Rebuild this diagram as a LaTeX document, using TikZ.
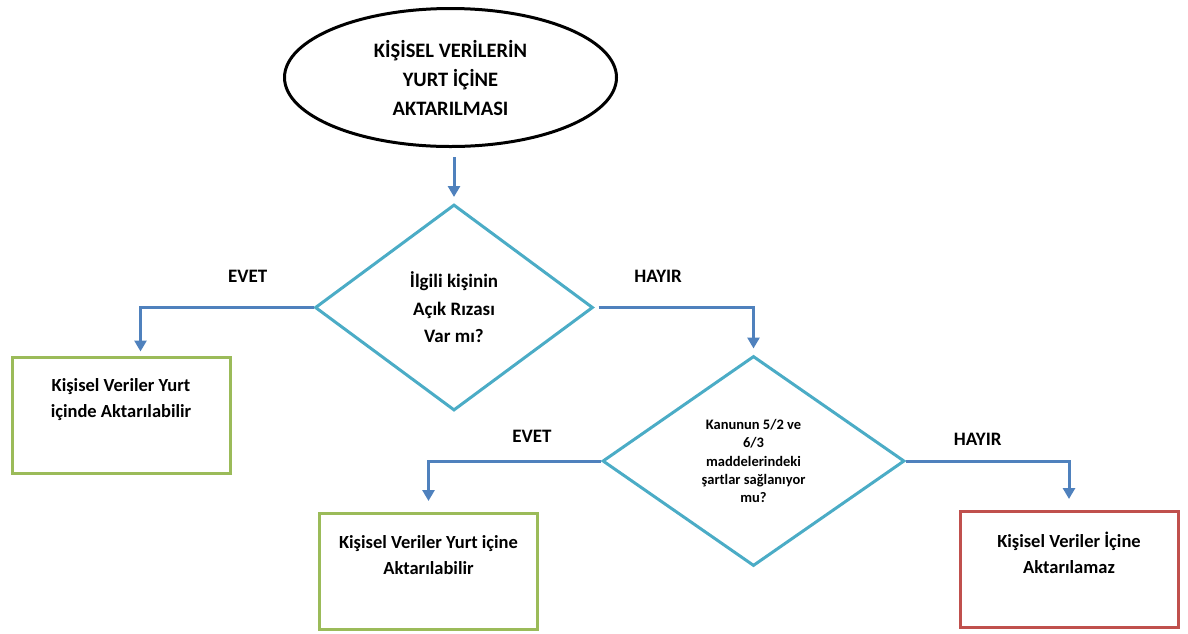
\documentclass[tikz,border=0pt]{standalone}
\usepackage{fontspec}
\setmainfont{Carlito}
\usepackage{tikz}
\usetikzlibrary{arrows.meta, positioning, shapes.geometric}

\definecolor{flowblue}{HTML}{4F81BD}
\definecolor{askaqua}{HTML}{4BACC6}
\definecolor{okgreen}{HTML}{9BBB59}
\definecolor{nored}{HTML}{C0504D}

\begin{document}
\begin{tikzpicture}[x=1pt, y=-1pt, font=\bfseries,
	arrow/.style={draw=flowblue, line width=3pt, -{Triangle[width=12pt,length=11pt]}},
	decision/.style={diamond, draw=askaqua, line width=3pt, inner sep=0pt, align=center},
	result/.style={rectangle, line width=3pt, minimum width=218pt, minimum height=116pt, align=center, font=\bfseries\fontsize{18.5}{26}\selectfont},
	lbl/.style={font=\bfseries\fontsize{19}{23}\selectfont, inner sep=0pt}]
		\useasboundingbox (0,0) rectangle (1188,633);
		\node[ellipse, draw, line width=3pt, minimum width=332pt, minimum height=138pt, inner sep=0pt, align=center, font=\bfseries\fontsize{20.5}{29}\selectfont]
			(start) at (450.5,77.5) {KİŞİSEL VERİLERİN\\YURT İÇİNE\\AKTARILMASI};
		\node[decision, minimum width=278pt, minimum height=206pt, font=\bfseries\fontsize{19}{27.5}\selectfont]
			(riza) [below=55pt of start, xshift=3.5pt] {İlgili kişinin\\Açık Rızası\\Var mı?};
		\node[result, draw=okgreen]	(yurtici) [below left=48pt and 82pt of riza.west] {Kişisel Veriler Yurt\\içinde Aktarılabilir\\\strut};
		\node[decision, minimum width=302pt, minimum height=210pt, font=\bfseries\fontsize{14.5}{18.3}\selectfont]
			(sart) [below right=47pt and 159pt of riza.east, anchor=north] {Kanunun 5/2 ve\\6/3\\maddelerindeki\\şartlar sağlanıyor\\mu?};
		\node[result, draw=okgreen]	(aktarilir) [below left=51pt and 172.5pt of sart.west, anchor=north] {Kişisel Veriler Yurt içine\\Aktarılabilir\\\strut};
		\node[result, draw=nored]	(aktarilamaz) [below right=49pt and 163pt of sart.east, anchor=north] {Kişisel Veriler İçine\\Aktarılamaz\\\strut};
		% connectors
		\draw[arrow, shorten <=9pt, shorten >=6pt] (start.south -| riza.north) -- (riza.north);
		\draw[arrow, shorten >=4pt] (riza.west) -| ([xshift=19.5pt]yurtici.north)
			node[lbl, pos=.19, yshift=31pt] (evet1) {EVET};
		\draw[arrow, shorten <=4pt, shorten >=6pt] (riza.east) -| (sart.north)
			node[lbl, pos=.2, yshift=31pt] (hayir1) {HAYIR};
		\draw[arrow, shorten >=11pt] (sart.west) -| (aktarilir.north)
			node[lbl, pos=.2, yshift=25pt] (evet2) {EVET};
		\draw[arrow, shorten >=11pt] (sart.east) -| (aktarilamaz.north)
			node[lbl, pos=.22, yshift=22pt] (hayir2) {HAYIR};
\end{tikzpicture}
\end{document}
